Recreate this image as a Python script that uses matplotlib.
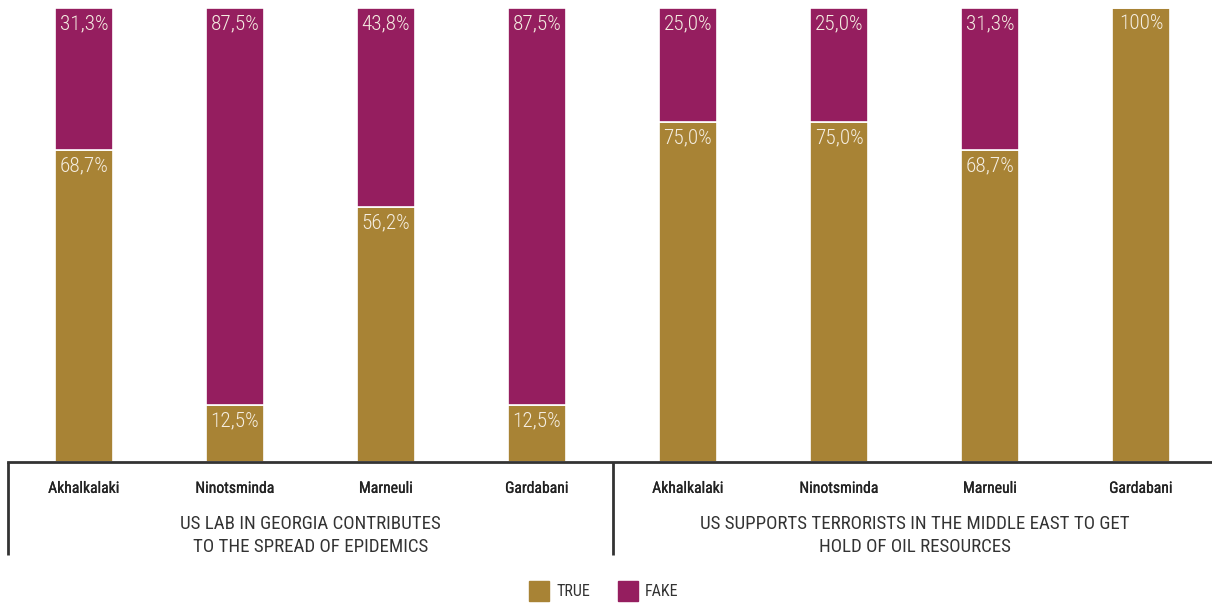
import matplotlib
matplotlib.use("Agg")
import matplotlib.pyplot as plt
from matplotlib.patches import Rectangle
from matplotlib import font_manager
import matplotlib.patheffects as pe

# Survey results: share of respondents rating each claim true / fake
districts = ["Akhalkalaki", "Ninotsminda", "Marneuli", "Gardabani"]
groups = [
    "US LAB IN GEORGIA CONTRIBUTES\nTO THE SPREAD OF EPIDEMICS",
    "US SUPPORTS TERRORISTS IN THE MIDDLE EAST TO GET\nHOLD OF OIL RESOURCES",
]
true_vals = [68.7, 12.5, 56.2, 12.5, 75.0, 75.0, 68.7, 100.0]
fake_vals = [31.3, 87.5, 43.8, 87.5, 25.0, 25.0, 31.3, 0.0]
legend_labels = ["TRUE", "FAKE"]

GOLD = "#A88335"
PURPLE = "#951E5F"
DARK = "#333333"
LABEL = "#F5EEE2"

names = {f.name for f in font_manager.fontManager.ttflist}
family = [f for f in ["Roboto Condensed", "Liberation Sans Narrow", "Roboto", "DejaVu Sans"] if f in names]
plt.rcParams["font.family"] = family

W, H = 1212, 603
fig = plt.figure(figsize=(W / 100, H / 100), dpi=100)
ax = fig.add_axes([8 / W, 1 - 462 / H, (W - 8) / W, 454 / H])

x = list(range(len(true_vals)))
width = 0.384
ax.bar(x, true_vals, width, color=GOLD, edgecolor="white", linewidth=1.2)
ax.bar(x, fake_vals, width, bottom=true_vals, color=PURPLE, edgecolor="white", linewidth=1.2)

def fmt(v):
    if v >= 100:
        return "100%"
    return f"{v:.1f}%".replace(".", ",")

for xi, t, f in zip(x, true_vals, fake_vals):
    if t > 0:
        ax.annotate(fmt(t), (xi, t), xytext=(0, -11.5), textcoords="offset points",
                    ha="center", va="center", color=LABEL, fontsize=15.3, fontweight="light")
    if f > 0:
        ax.annotate(fmt(f), (xi, t + f), xytext=(0, -11.5), textcoords="offset points",
                    ha="center", va="center", color=LABEL, fontsize=15.3, fontweight="light")

ax.set_xlim(-0.503, 7.47)
ax.set_ylim(0, 100)
ax.set_xticks([])
ax.set_yticks([])
for s in ["top", "right", "left"]:
    ax.spines[s].set_visible(False)
ax.spines["bottom"].set_color(DARK)
ax.spines["bottom"].set_linewidth(2)

# group separators below the axis
for sx in [-0.503, 3.503]:
    ax.plot([sx, sx], [0, -20.5], color=DARK, lw=2, clip_on=False, solid_capstyle="butt")

for xi, name in zip(x, districts * 2):
    ax.text(xi, -5.8, name, ha="center", va="center", fontsize=11.3,
            fontweight="normal", color="#222222",
            path_effects=[pe.withStroke(linewidth=0.2, foreground="#222222")])

for gi, g in enumerate(groups):
    ax.text(1.5 + 4 * gi, -16.2, g, ha="center", va="center", fontsize=13.6,
            color=DARK, linespacing=1.38)

# legend
for (px, label, col) in [(529, legend_labels[0], GOLD), (618, legend_labels[1], PURPLE)]:
    fig.add_artist(Rectangle((px / W, 1 - 601 / H), 20 / W, 20 / H,
                             transform=fig.transFigure, color=col))
    fig.text((px + 27) / W, 1 - 591.5 / H, label, ha="left", va="center",
             fontsize=11.5, color=DARK)

fig.savefig("out.png", dpi=100, facecolor="white")
